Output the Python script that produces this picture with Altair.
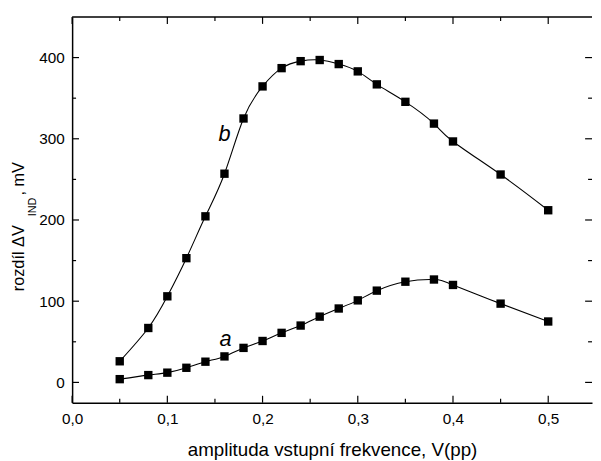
import altair as alt
import pandas as pd

# ---- data ----
x_vals = [0.05, 0.08, 0.10, 0.12, 0.14, 0.16, 0.18, 0.20, 0.22, 0.24,
          0.26, 0.28, 0.30, 0.32, 0.35, 0.38, 0.40, 0.45, 0.50]
a_vals = [4, 9, 12, 18, 25.5, 32, 42.5, 51, 61, 70,
          81, 91, 101, 113, 124, 126.7, 120, 97, 75]
b_vals = [26, 67, 106, 153, 204.5, 257, 325, 364.5, 387, 395.6,
          397, 392, 383, 367, 345.5, 318.7, 296.7, 256, 212]

series_names = ["a", "b"]
label_x = [0.161, 0.160]
label_y = [45, 297]

x_major = [0.0, 0.1, 0.2, 0.3, 0.4, 0.5]
x_minor = [0.05, 0.15, 0.25, 0.35, 0.45]
y_major = [0, 100, 200, 300, 400]
y_minor = [50, 150, 250, 350]

x_title = "amplituda vstupní frekvence, V(pp)"
y_title_parts = ["rozdíl ΔV", "IND", ", mV"]

# ---- layout ----
W, H = 527, 391
FONT = "Liberation Sans"

rows = []
for name, vals in zip(series_names, [a_vals, b_vals]):
    for xv, yv in zip(x_vals, vals):
        rows.append({"x": xv, "v": yv, "s": name})
df = pd.DataFrame(rows)

xs = alt.Scale(domain=[0, 0.546], nice=False, zero=False)
ys = alt.Scale(domain=[-25, 450], nice=False, zero=False)

x_axis = alt.Axis(values=x_major,
                  labelExpr="replace(format(datum.value, '.1f'), '.', ',')",
                  ticks=False, tickSize=0, labelPadding=9, grid=False,
                  domainColor="black", domainWidth=1.5,
                  labelFont=FONT, labelFontSize=15.5, labelColor="black",
                  labelFlush=False,
                  title=x_title, titleFont=FONT, titleFontSize=19,
                  titleFontWeight="normal", titleColor="black", titlePadding=14)
y_axis = alt.Axis(values=y_major, format="d",
                  ticks=False, tickSize=0, labelPadding=8, grid=False,
                  domainColor="black", domainWidth=1.5,
                  labelFont=FONT, labelFontSize=15.5, labelColor="black",
                  title=None)


def X(f):
    return alt.X(f"{f}:Q", scale=xs, axis=x_axis)


def Y(f):
    return alt.Y(f"{f}:Q", scale=ys, axis=y_axis)


lines = alt.Chart(df).mark_line(interpolate="natural", color="black",
                                strokeWidth=1.1).encode(
    x=X("x"), y=Y("v"), detail="s:N")
points = alt.Chart(df).mark_square(size=72, color="black", opacity=1,
                                   filled=True).encode(x=X("x"), y=Y("v"))

lab_df = pd.DataFrame({"x": label_x, "v": label_y, "t": series_names})
labels = alt.Chart(lab_df).mark_text(font=FONT, fontSize=22, fontStyle="italic",
                                     baseline="alphabetic", align="center",
                                     color="black").encode(
    x=X("x"), y=Y("v"), text="t:N")

xmaj = pd.DataFrame({"t": x_major})
xmin = pd.DataFrame({"t": x_minor})
ymaj = pd.DataFrame({"t": y_major})
ymin = pd.DataFrame({"t": y_minor})

tick_layers = []
for d, ln in [(xmaj, 7), (xmin, 4)]:
    tick_layers.append(alt.Chart(d).mark_rule(color="black", strokeWidth=1.2).encode(
        x=X("t"), y=alt.value(H), y2=alt.value(H - ln)))
    tick_layers.append(alt.Chart(d).mark_rule(color="black", strokeWidth=1.2).encode(
        x=X("t"), y=alt.value(0), y2=alt.value(ln)))
for d, ln in [(ymaj, 7), (ymin, 4)]:
    tick_layers.append(alt.Chart(d).mark_rule(color="black", strokeWidth=1.2).encode(
        y=Y("t"), x=alt.value(0), x2=alt.value(ln)))
    tick_layers.append(alt.Chart(d).mark_rule(color="black", strokeWidth=1.2).encode(
        y=Y("t"), x=alt.value(W), x2=alt.value(W - ln)))

one = pd.DataFrame({"k": [0]})
top_border = alt.Chart(one).mark_rule(color="black", strokeWidth=1.5).encode(
    x=alt.value(0), x2=alt.value(W), y=alt.value(0))

ytitle_main = alt.Chart(pd.DataFrame({"t": [y_title_parts[0]]})).mark_text(
    font=FONT, fontSize=16.5, angle=270, align="left", baseline="alphabetic",
    color="black").encode(text="t:N", x=alt.value(-49), y=alt.value(278))
ytitle_sub = alt.Chart(pd.DataFrame({"t": [y_title_parts[1]]})).mark_text(
    font=FONT, fontSize=11, angle=270, align="left", baseline="alphabetic",
    color="black").encode(text="t:N", x=alt.value(-37), y=alt.value(202))
ytitle_end = alt.Chart(pd.DataFrame({"t": [y_title_parts[2]]})).mark_text(
    font=FONT, fontSize=16.5, angle=270, align="left", baseline="alphabetic",
    color="black").encode(text="t:N", x=alt.value(-49), y=alt.value(181))

chart = alt.layer(lines, points, labels, *tick_layers, top_border,
                  ytitle_main, ytitle_sub, ytitle_end).properties(
    width=W, height=H,
    autosize=alt.AutoSizeParams(type="none"),
    padding={"left": 65, "top": 6, "right": 1, "bottom": 56},
    background="white",
).configure_view(strokeWidth=0)

chart.save("out.html", embed_options={"renderer": "svg", "actions": False})
